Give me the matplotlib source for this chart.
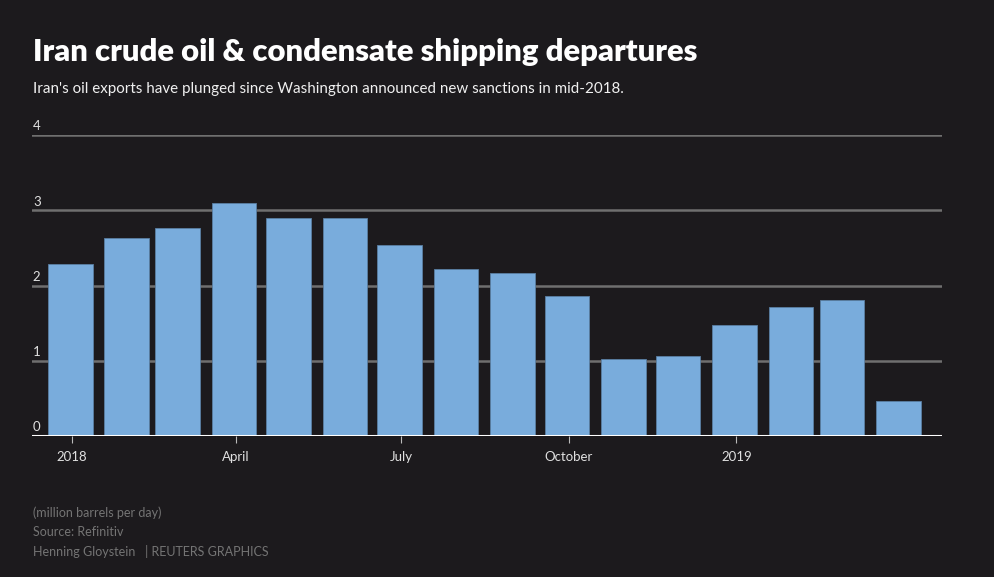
import matplotlib
matplotlib.use("Agg")
import matplotlib.pyplot as plt
import pandas as pd

# Monthly departures, million barrels per day
months = pd.date_range("2018-01-01", "2019-04-01", freq="MS")
departures = [2.29, 2.63, 2.76, 3.10, 2.90, 2.90, 2.54, 2.22,
              2.17, 1.86, 1.02, 1.06, 1.48, 1.71, 1.81, 0.47]
tick_dates = pd.to_datetime(["2018-01-01", "2018-04-01", "2018-07-01",
                             "2018-10-01", "2019-01-01"])
tick_labels = ["2018", "April", "July", "October", "2019"]
y_ticks = [0, 1, 2, 3, 4]

BG = "#1c1a1d"
BAR = "#79acdc"
GRID = "#6f6f6f"
FOOT = "#747474"

plt.rcParams["font.family"] = ["Lato", "DejaVu Sans"]

fig = plt.figure(figsize=(9.94, 5.77), dpi=100, facecolor=BG)
ax = fig.add_axes([32 / 994, 1 - 436 / 577, 910 / 994, 301 / 577])
ax.set_facecolor(BG)

# bars sit a touch left of the month tick, like the original
ax.bar(months - pd.Timedelta(days=1), departures, width=24.5, color=BAR,
       edgecolor="#5a7fa3", linewidth=0.6, zorder=2)

ax.set_xlim(pd.Timestamp("2017-12-10"), pd.Timestamp("2019-04-24"))
ax.set_ylim(0, 4)

for y in y_ticks:
    if y > 0:
        ax.axhline(y, color=GRID, linewidth=1.8, zorder=1)
    ax.text(0.001, y + 0.035, str(y), transform=ax.get_yaxis_transform(),
            color="#e0e0e0", fontsize=9.5, ha="left", va="bottom", zorder=3)
ax.axhline(0, color="white", linewidth=2.2, zorder=3)

ax.set_yticks([])
ax.set_xticks(tick_dates)
ax.set_xticklabels(tick_labels, color="#e0e0e0", fontsize=9.5)
ax.tick_params(axis="x", length=5, width=0.8, color="#bbbbbb", pad=6)
for s in ax.spines.values():
    s.set_visible(False)

fig.text(33 / 994, 1 - 52 / 577, "Iran crude oil & condensate shipping departures",
         color="white", fontsize=22.3, fontweight="heavy", va="center", ha="left")
fig.text(33 / 994, 1 - 89 / 577,
         "Iran's oil exports have plunged since Washington announced new sanctions in mid-2018.",
         color="#f0f0f0", fontsize=10.9, va="center", ha="left")

fig.text(33 / 994, 1 - 513 / 577, "(million barrels per day)", color=FOOT,
         fontsize=9, va="center", ha="left")
fig.text(33 / 994, 1 - 532 / 577, "Source: Refinitiv", color=FOOT,
         fontsize=9, va="center", ha="left")
fig.text(33 / 994, 1 - 551 / 577, "Henning Gloystein   | REUTERS GRAPHICS",
         color=FOOT, fontsize=9, va="center", ha="left")

fig.savefig("out.png", dpi=100, facecolor=BG)
